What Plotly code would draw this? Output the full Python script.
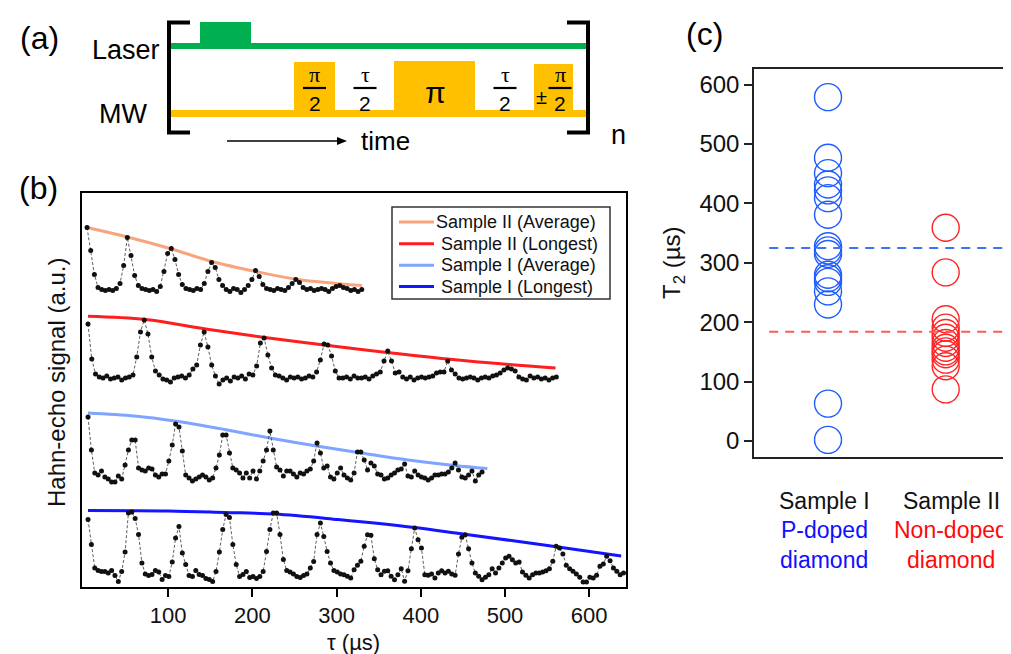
import plotly.graph_objects as go

W, H = 1011, 654
FONT = "Liberation Sans, Arial, sans-serif"
SERIF = "Liberation Serif, DejaVu Serif, serif"

# ---------------- panel (b): Hahn-echo data (a.u., relative to each trace baseline) ----------------
legend_names = ["Sample II (Average)", "Sample II (Longest)", "Sample I (Average)", "Sample I (Longest)"]
fit_colors = ["#f8a47c", "#ff1e1e", "#7fa5ff", "#1414ff"]

tau_start = [3.6, 4.75, 4.75, 4.75]     # µs
tau_step = [4.35, 4.45, 4.0, 4.0]       # µs
trace_offsets = [297.5, 209, 111, 12.5]  # vertical stacking of the traces

echo_s2_avg = [62, 39, 15, 2, 0, -1, 0, -1, 1, 6,
               24, 52, 34, 14, 4, 1, 0, -1, 0, -2,
               3, 18, 36, 41, 30, 15, 5, 1, 0, -1,
               1, 0, 6, 18, 27, 22, 10, 4, 0, -2,
               1, 0, -3, 0, 4, 10, 19, 13, 5, 1,
               0, -1, 1, 0, -1, 2, 6, 10, 7, 2,
               0, 1, -1, 0, 1, 0, -2, 1, 3, 4,
               2, 1, -1, 0, -2, 0]

echo_s2_long = [54, 19, 4, 1, 0, 2, -1, 0, 1, -2, 0, 1,
                3, 21, 46, 58, 44, 21, 7, 3, -1,
                -2, -4, 0, 1, 2, 0, 3, 9,
                13, 33, 46, 31, 13, 2, -6,
                -2, 0, -3, 1, 0, 2, -1, 4,
                3, 12, 35, 40, 23, 10, 3,
                2, 0, -2, 1, 0, 1, -1, 0, 2,
                1, 6, 18, 34, 33, 22, 7, 0,
                0, 1, -1, 2, 0, 0, 1, -1, 2, 4,
                6, 17, 27, 17, 5, 6, 1,
                -1, 1, -2, 0, 1, 0, 1, 2, 5, 6,
                6, 17, 8, 4, 0, -1, 0,
                1, 0, -2, 0, 1, 0, 2, 3, 5,
                8, 10, 9, 7, 1, -1, -2,
                2, 0, 1, -1, 0, -2, 0, 1]

echo_s1_avg = [59, 26, 3, 1, 5, -1, -3, -6, -6, 0,
               -3, 11, 26, 36, 36, 8, 6, 5, 8, 7,
               1, -1, 2, 2, 15, 31, 52, 49, 25, 1,
               -2, -5, -3, -1, 1, -1, -4, -2, 8, 21,
               41, 41, 23, 8, 6, 3, -2, 3, -2, 5,
               -3, 5, 15, 26, 45, 26, 9, 6, 0, 5,
               5, 2, -1, 3, 2, 5, 7, 15, 33, 23,
               8, 10, -1, -3, 3,
               8, 1, -2, -4, 3, 24, 24, 16, 6, 13,
               10, 2, 1, -3, -2, 1, 3, 6, 7, 12,
               0, -1, 5, 1, -1, -2, -4, -2, 1, 1,
               2, 2, 4, 8, 13, 6, -1, -2, 1, 5,
               -5, 1, 4]

echo_s1_long = [55, 30, 6.5, 4, 3, 3, 1.5, 4, -1, -7,
                3, 22.5, 61.5, 62.5, 56, 40, 11.5, 0.5, -1, 0,
                4, 2.5, -5, -1, -2, 12.5, 36.5, 48, 21.5, 10,
                -1, -2, 4, 0, -1, -4, -5, -7, 3, 22.5,
                45, 60, 57, 30, 10, -2, 0, 3, -3, -2,
                -4, -2, 3, 23, 45, 61.5, 61.5, 40, 15, 4,
                2.5, 0.5, -2, -3, -1, 0.5, 6.5, 13, 40, 51.5,
                38, 23, 11.5, 4, 2.5,
                0.5, -0.2, -1.8, -3.5, 4.8, 9.2, 13.2, 28.2, 39.8, 39.2,
                15.8, 4.8, -0.2, 3.2, 3.8, -1.8, -5.2, -0.2, 5.8, -6.8,
                3.8, 25.8, 46.5, 34.8, 26.5, -0.2, -0.8, 0.5, -3.5, 1.5,
                3.8, 1.5, 3.2, 0.5, -0.8, 20.5, 37.2, 39.8, 25.8, 11.5,
                1.5, -1.8, -5.2, -2.8, -0.2, 5.8, 1.5, 6.5, 11.5, 16.5,
                18.2, 14.8, 11.5, 12.5, 2.5, -0.8, -3.5, -0.2, 1.5, 1.5,
                2.5, 3.8, 5.8, 13.2, 28.2, 26.5, 20.5, 9.2, 5.8, 3.2,
                0.5, -2.8, -7.5, -7.5, -2.8, -3.5, -0.8, 8.2, 10.5, 18.2,
                13.8, 6.5, 3.2, -0.2, 1.5]

# fitted decay envelopes (read at a few points)
fit_s2_avg_tau = [3.6, 51.5, 102, 152, 204, 254, 330]
fit_s2_avg = [62, 52.5, 41, 28, 18, 10, 4]
fit_s2_long_tau = [4.75, 73, 144.5, 214.6, 290, 360, 431.5, 505, 560]
fit_s2_long = [61.7, 58.5, 49, 40.5, 32.5, 25.5, 19, 13.5, 10]
fit_s1_avg_tau = [4.75, 60, 107.7, 167, 220.5, 276, 329.4, 385, 440, 479]
fit_s1_avg = [63, 60, 55, 46.5, 38, 30, 23, 16, 10.5, 7.5]
fit_s1_long_tau = [4.75, 100, 167, 226.5, 301.7, 392.7, 450, 559, 638]
fit_s1_long = [64, 63.5, 62, 60.5, 55, 47, 40.5, 28, 18.5]

tau_ticks = [100, 200, 300, 400, 500, 600]

# ---------------- panel (c): T2 values ----------------
t2_sample1 = [579, 477, 451, 432, 422, 409, 381, 328, 321, 315, 280, 274, 268, 252, 230, 63, 2]
t2_sample2 = [359, 284, 205, 191, 182, 174, 165, 157, 151, 146, 137, 126, 87]
t2_means = [325, 184]
t2_ticks = [0, 100, 200, 300, 400, 500, 600]
sample_pos = [1, 2]
t2_colors = ["#1f5cff", "#ff2424"]
label_colors = ["#1010ff", "#ff0a0a"]
mean_colors = ["#3f72ff", "#ff5a5a"]


def px(x):
    return x / W


def py(y):
    return 1 - y / H


fig = go.Figure()

echo_sets = [echo_s2_avg, echo_s2_long, echo_s1_avg, echo_s1_long]
fit_sets = [(fit_s2_avg_tau, fit_s2_avg), (fit_s2_long_tau, fit_s2_long),
            (fit_s1_avg_tau, fit_s1_avg), (fit_s1_long_tau, fit_s1_long)]

for i, (ft, fv) in enumerate(fit_sets):
    fig.add_trace(go.Scatter(
        x=ft, y=[v + trace_offsets[i] for v in fv], mode="lines",
        line=dict(color=fit_colors[i], width=3, shape="spline", smoothing=1.0),
        name=legend_names[i], xaxis="x", yaxis="y", showlegend=False))

for i, vals in enumerate(echo_sets):
    taus = [tau_start[i] + tau_step[i] * k for k in range(len(vals))]
    fig.add_trace(go.Scatter(
        x=taus, y=[v + trace_offsets[i] for v in vals], mode="lines+markers",
        line=dict(color="#333333", width=0.8, dash="3px,2px"),
        marker=dict(color="#111111", size=5),
        xaxis="x", yaxis="y", showlegend=False))

# panel (c)
for i, vals in enumerate([t2_sample1, t2_sample2]):
    fig.add_trace(go.Scatter(
        x=[sample_pos[i]] * len(vals), y=vals, mode="markers",
        marker=dict(symbol="circle-open", size=27, color=t2_colors[i], line=dict(width=1.4)),
        xaxis="x2", yaxis="y2", showlegend=False))
for i, m in enumerate(t2_means):
    fig.add_trace(go.Scatter(
        x=[0.5, 2.49], y=[m, m], mode="lines",
        line=dict(color=mean_colors[i], width=2, dash="9px,7px"),
        xaxis="x2", yaxis="y2", showlegend=False))

shapes = []
annotations = []


def rect(x0, y0, x1, y1, color, line_color=None, lw=0):
    shapes.append(dict(type="rect", xref="paper", yref="paper", x0=px(x0), x1=px(x1),
                       y0=py(y1), y1=py(y0), fillcolor=color,
                       line=dict(width=lw, color=line_color or color), layer="above"))


def line(x0, y0, x1, y1, width, color="black"):
    shapes.append(dict(type="line", xref="paper", yref="paper", x0=px(x0), x1=px(x1),
                       y0=py(y0), y1=py(y1), line=dict(color=color, width=width), layer="above"))


def text(x, y, s, size, color="black", family=FONT, angle=0, anchor="center"):
    annotations.append(dict(xref="paper", yref="paper", x=px(x), y=py(y), text=s,
                            showarrow=False, xanchor=anchor, yanchor="middle",
                            textangle=angle, font=dict(size=size, color=color, family=family)))


GREEN = "#00b050"
ORANGE = "#ffc000"
# panel (a) pulse sequence
rect(163, 35, 580, 41, GREEN)
rect(192, 14, 243, 38, GREEN)
rect(163, 102, 580, 109, ORANGE)
rect(286, 54, 327, 105, ORANGE)
rect(386, 53, 467, 105, ORANGE)
rect(526, 56, 565, 105, ORANGE)
# brackets
line(161, 13, 161, 126, 4)
line(159, 14.5, 182, 14.5, 4)
line(159, 124.5, 182, 124.5, 4)
line(580, 13, 580, 126, 4)
line(559, 14.5, 582, 14.5, 4)
line(559, 124.5, 582, 124.5, 4)

for cx, top in [(306.5, "π"), (357, "τ"), (497, "τ"), (552, "π")]:
    text(cx, 66, top, 22, family=SERIF)
    line(cx - 11.5, 80, cx + 11.5, 80, 2.2)
    text(cx, 95, "2", 21)
text(427, 84, "π", 30, family=FONT)
text(533, 89, "±", 20)

text(118, 42, "Laser", 27)
text(115, 106, "MW", 27)
text(377, 133, "time", 26)
text(610, 127, "n", 27)
# time arrow
line(219, 133, 332, 133, 1.3)
shapes.append(dict(type="path", xref="paper", yref="paper",
                   path="M {} {} L {} {} L {} {} Z".format(px(339), py(133), px(329), py(129),
                                                          px(329), py(137)),
                   fillcolor="black", line=dict(width=0), layer="above"))

# panel labels
text(31, 30, "(a)", 32)
text(30, 180, "(b)", 32)
text(696, 26, "(c)", 32)

# axis titles
text(48, 375, "Hahn-echo signal (a.u.)", 24, color="#111", angle=-90)
text(345, 634, "τ (µs)", 22, color="#111")
text(665, 255, "T<sub>2</sub> (µs)", 24, color="#111", angle=-90)

# sample labels panel (c)
text(816, 493, "Sample I", 23, color="#111")
text(816, 522, "P-doped", 23, color=label_colors[0])
text(816, 552, "diamond", 23, color=label_colors[0])
text(943, 493, "Sample II", 23, color="#111")
text(943, 522, "Non-doped", 23, color=label_colors[1])
text(943, 552, "diamond", 23, color=label_colors[1])

# legend for panel (b)
rect(384, 199, 602, 291, "white", line_color="#333333", lw=1.5)
legend_rows = [214, 235.7, 257.3, 278.5]
legend_text_x = [426, 431, 431, 431]
for i, name in enumerate(legend_names):
    line(391, legend_rows[i], 426, legend_rows[i], 3, color=fit_colors[i])
    text(legend_text_x[i], legend_rows[i], name, 18, color="#111", anchor="left")

fig.update_layout(
    width=W, height=H, margin=dict(l=0, r=0, t=0, b=0),
    paper_bgcolor="white", plot_bgcolor="rgba(0,0,0,0)",
    font=dict(family=FONT, color="#111"),
    shapes=shapes, annotations=annotations, showlegend=False,
    xaxis=dict(domain=[px(74), px(618)], range=[-2.4, 643.7], anchor="y",
               showline=True, mirror=True, linecolor="black", linewidth=1.5,
               ticks="outside", ticklen=8, tickwidth=1.5, tickcolor="black",
               tickvals=tau_ticks, tickfont=dict(size=22, color="#111"),
               showgrid=False, zeroline=False),
    yaxis=dict(domain=[py(579), py(185)], range=[0, 394], anchor="x",
               showline=True, mirror=True, linecolor="black", linewidth=1.5,
               showticklabels=False, ticks="", showgrid=False, zeroline=False),
    xaxis2=dict(domain=[px(746), 1.0], range=[0.371, 2.623], anchor="y2",
                showline=True, mirror=True, linecolor="#222", linewidth=1.5,
                showticklabels=False, ticks="", showgrid=False, zeroline=False),
    yaxis2=dict(domain=[py(449), py(61)], range=[-26.9, 626.4], anchor="x2",
                showline=True, mirror=False, linecolor="#222", linewidth=1.5,
                ticks="outside", ticklen=8, tickwidth=1.5, tickcolor="#222",
                tickvals=t2_ticks, tickfont=dict(size=24, color="#111"),
                showgrid=False, zeroline=False),
)

fig.write_html("out.html")
